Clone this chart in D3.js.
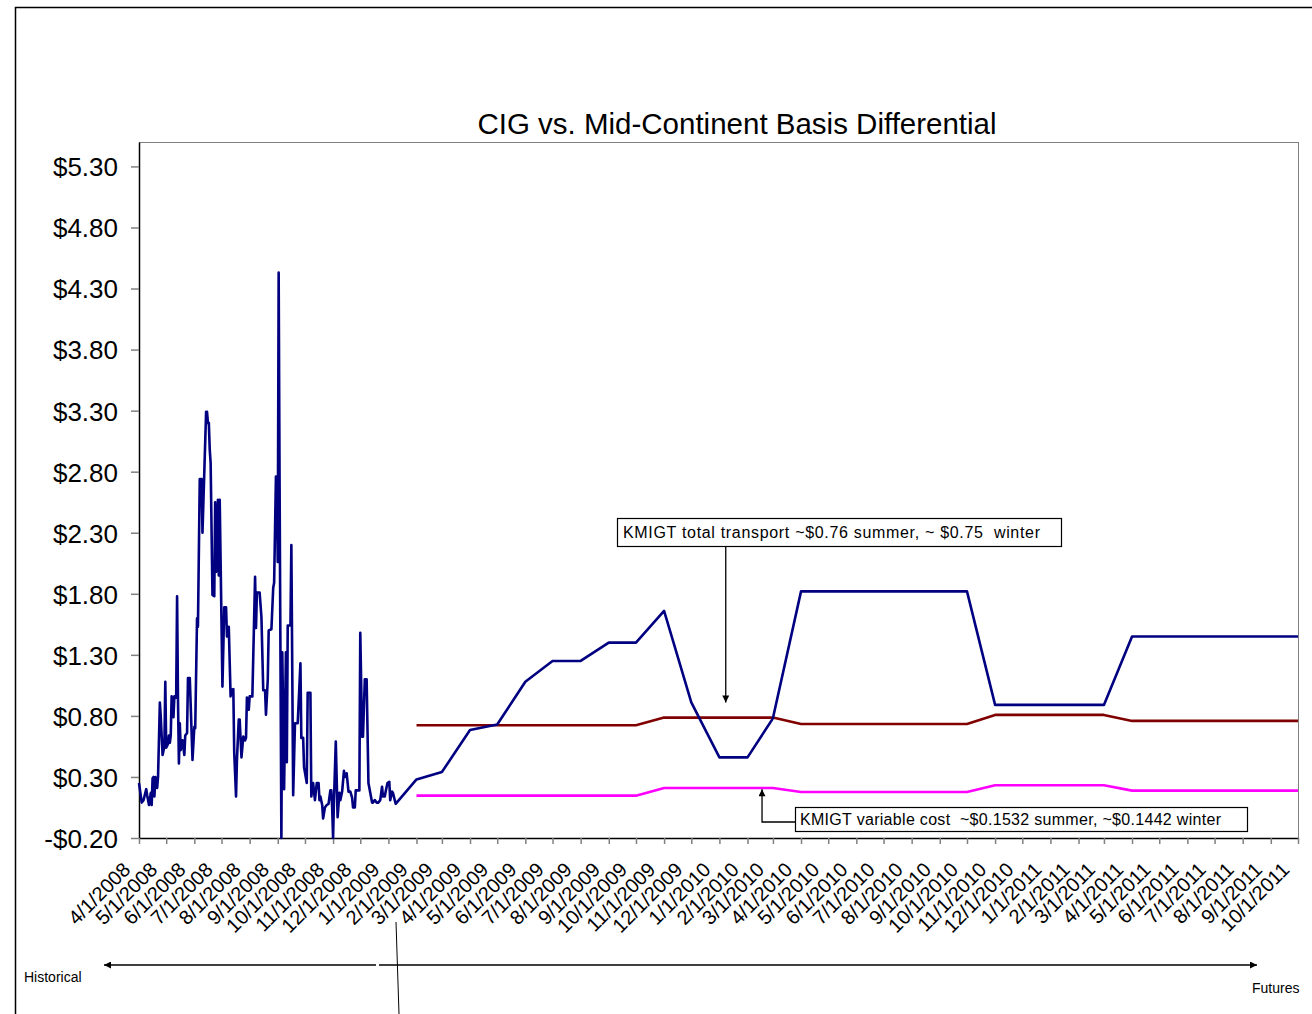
<!DOCTYPE html>
<html>
<head>
<meta charset="utf-8">
<script src="https://cdn.jsdelivr.net/npm/d3@7"></script>
<style>
body { margin: 0; background: #fff; }
svg { display: block; font-family: "Liberation Sans", Arial, sans-serif; }
</style>
</head>
<body>
<div id="chart"></div>
<script>
// ---- data ----
const titleText = 'CIG vs. Mid-Continent Basis Differential';

// daily historical basis, days counted from histStart
const histStart = '2008-04-01';
const histDay = [0, 3, 5, 8, 9, 11, 13, 14, 15, 16, 17, 18, 20, 21, 23, 24, 26, 28, 29, 30,
    32, 33, 34, 35, 36, 38, 39, 41, 42, 43, 44, 45, 46, 48, 50, 51, 53, 54, 56, 59,
    61, 62, 64, 65, 67, 69, 70, 74, 75, 76, 77, 78, 79, 81, 83, 84, 85, 86, 87, 88,
    89, 92, 94, 96, 97, 99, 101, 102, 104, 105, 107, 108, 110, 111, 113, 115, 117, 118, 119, 121,
    122, 125, 128, 129, 130, 133, 135, 137, 139, 140, 142, 143, 146, 148, 149, 151, 152, 153, 154, 155,
    157, 158, 160, 162, 163, 164, 167, 168, 170, 172, 175, 178, 179, 181, 182, 185, 186, 189, 190, 192,
    194, 196, 198, 199, 200, 202, 203, 205, 207, 209, 211, 212, 213, 214, 215, 217, 219, 221, 222, 224,
    226, 227, 229, 231, 233, 235, 236, 238, 239, 243, 244, 246, 247, 249, 251, 253, 255, 257, 258, 260,
    262, 264, 266, 268, 269, 271, 272, 274, 276, 277, 279, 280, 283];
const histValue = [0.25, 0.09, 0.11, 0.20, 0.15, 0.07, 0.17, 0.07, 0.29, 0.30, 0.14, 0.30, 0.21, 0.30, 0.91, 0.79, 0.48, 0.55, 1.08, 0.54,
    0.57, 0.64, 0.58, 0.64, 0.96, 0.79, 0.96, 0.95, 1.78, 0.93, 0.41, 0.74, 0.52, 0.60, 0.48, 0.64, 0.66, 1.11, 1.11, 0.44,
    0.71, 0.70, 1.60, 1.53, 2.74, 2.74, 2.30, 3.29, 3.29, 3.20, 3.20, 2.98, 2.87, 1.79, 1.78, 2.55, 1.98, 2.00, 2.57, 1.95,
    2.57, 1.04, 1.69, 1.69, 1.45, 1.53, 0.96, 1.01, 1.02, 0.50, 0.14, 0.44, 0.77, 0.77, 0.46, 0.63, 0.60, 0.62, 0.95, 0.85,
    0.96, 0.96, 1.94, 1.52, 1.81, 1.81, 1.61, 1.01, 1.01, 0.81, 1.10, 1.50, 1.51, 1.85, 1.89, 2.76, 2.76, 2.06, 4.43, 2.74,
    -0.20, 1.32, 0.20, 1.32, 0.42, 1.54, 1.54, 2.20, 0.15, 0.74, 0.74, 1.23, 0.62, 0.62, 0.38, 0.25, 0.99, 0.99, 0.14, 0.25,
    0.11, 0.25, 0.25, 0.11, 0.14, 0.07, -0.04, 0.05, 0.07, 0.08, 0.19, 0.19, 0.05, -0.20, 0.11, 0.59, -0.03, 0.17, 0.11, 0.18,
    0.35, 0.30, 0.33, 0.18, 0.18, 0.13, 0.05, 0.05, 0.19, 0.19, 1.48, 0.63, 0.63, 1.10, 1.10, 0.25, 0.17, 0.09, 0.09, 0.11,
    0.09, 0.09, 0.11, 0.22, 0.14, 0.14, 0.18, 0.25, 0.26, 0.11, 0.18, 0.17, 0.08];

// monthly futures, 2/1/2009 .. 10/1/2011
const futureStart = '2009-02-01';
const futureEnd = '2011-10-01';
const futureValue = [0.28, 0.34, 0.685, 0.73, 1.08, 1.25, 1.25, 1.40, 1.40, 1.66, 0.91,
    0.46, 0.46, 0.78, 1.82, 1.82, 1.82, 1.82, 1.82, 1.82, 1.82,
    0.89, 0.89, 0.89, 0.89, 0.89, 1.45, 1.45, 1.45, 1.45, 1.45, 1.45, 1.45];
const transportValue = [0.724, 0.724, 0.724, 0.724, 0.724, 0.724, 0.724, 0.724, 0.724,
    0.786, 0.786, 0.786, 0.786, 0.786,
    0.734, 0.734, 0.734, 0.734, 0.734, 0.734, 0.734,
    0.808, 0.808, 0.808, 0.808, 0.808,
    0.759, 0.759, 0.759, 0.759, 0.759, 0.759, 0.759];
const variableValue = [0.147, 0.147, 0.147, 0.147, 0.147, 0.147, 0.147, 0.147, 0.147,
    0.210, 0.210, 0.210, 0.210, 0.210,
    0.177, 0.177, 0.177, 0.177, 0.177, 0.177, 0.177,
    0.232, 0.232, 0.232, 0.232, 0.232,
    0.188, 0.188, 0.188, 0.188, 0.188, 0.188, 0.188];

const yTicks = [-0.2, 0.3, 0.8, 1.3, 1.8, 2.3, 2.8, 3.3, 3.8, 4.3, 4.8, 5.3];
const axisStart = '2008-04-01';
const axisEnd = '2011-10-01';

const transportNote = 'KMIGT total transport ~$0.76 summer, ~ $0.75  winter';
const transportPoint = { date: '2010-01-08', value: 0.91 };
const variableNote = 'KMIGT variable cost  ~$0.1532 summer, ~$0.1442 winter';
const variablePoint = { date: '2010-02-17', value: 0.20 };
const leftLabel = 'Historical';
const rightLabel = 'Futures';

// ---- layout ----
const W = 1312, H = 1014;
const margin = { top: 142, right: 14, bottom: 176, left: 139 };
const parse = d3.utcParse('%Y-%m-%d');

const svg = d3.select('#chart').append('svg')
    .attr('width', W)
    .attr('height', H);

const defs = svg.append('defs');
defs.append('marker')
    .attr('id', 'arrow')
    .attr('viewBox', '0 0 10 10')
    .attr('refX', 10).attr('refY', 5)
    .attr('markerWidth', 9).attr('markerHeight', 7)
    .attr('markerUnits', 'userSpaceOnUse')
    .attr('orient', 'auto')
    .append('path')
    .attr('d', 'M0,0L10,5L0,10z')
    .attr('fill', '#000');

// outer chart frame
svg.append('path')
    .attr('d', `M15.5,${H}V7.5H${W}`)
    .attr('fill', 'none')
    .attr('stroke', '#000')
    .attr('stroke-width', 1.5);

const x = d3.scaleUtc()
    .domain([parse(axisStart), parse(axisEnd)])
    .range([margin.left, W - margin.right]);
const y = d3.scaleLinear()
    .domain([-0.2, 5.5])
    .range([H - margin.bottom, margin.top]);

// plot area border
svg.append('rect')
    .attr('x', x.range()[0] + 0.5)
    .attr('y', y.range()[1] + 0.5)
    .attr('width', x.range()[1] - x.range()[0])
    .attr('height', y.range()[0] - y.range()[1])
    .attr('fill', 'none')
    .attr('stroke', '#808080');

svg.append('text')
    .attr('x', 737)
    .attr('y', 134)
    .attr('text-anchor', 'middle')
    .style('font-size', '29.5px')
    .text(titleText);

// ---- axes ----
const fmtMoney = d => (d < 0 ? '-' : '') + '$' + Math.abs(d).toFixed(2);
const yAxis = svg.append('g')
    .attr('transform', `translate(${margin.left},0)`)
    .call(d3.axisLeft(y).tickValues(yTicks).tickFormat(fmtMoney)
        .tickSize(8).tickSizeOuter(0).tickPadding(13));
yAxis.select('.domain').attr('stroke', '#000').attr('stroke-width', 1.5);
yAxis.selectAll('.tick line').attr('stroke', '#808080').attr('stroke-width', 1.5);
yAxis.selectAll('.tick text')
    .attr('fill', '#000')
    .attr('dy', '0.36em')
    .style('font-size', '26px')
    .style('font-family', '"Liberation Sans", Arial, sans-serif');

const months = d3.utcMonth.range(parse(axisStart), d3.utcDay.offset(parse(axisEnd), 1));
const xAxis = svg.append('g')
    .attr('transform', `translate(0,${y.range()[0]})`)
    .call(d3.axisBottom(x).tickValues(months).tickFormat(d3.utcFormat('%-m/%-d/%Y'))
        .tickSize(6).tickSizeOuter(0));
xAxis.select('.domain').attr('stroke', '#000').attr('stroke-width', 1.5);
xAxis.selectAll('.tick line').attr('stroke', '#808080').attr('stroke-width', 1.5);
xAxis.selectAll('.tick text')
    .attr('fill', '#000')
    .attr('x', 0).attr('y', 0).attr('dy', 0)
    .attr('text-anchor', 'end')
    .attr('transform', 'translate(-8,33) rotate(-45)')
    .style('font-size', '20px')
    .style('font-family', '"Liberation Sans", Arial, sans-serif');

// ---- series ----
const t0 = parse(histStart);
const basis = histDay.map((d, i) => ({ date: d3.utcDay.offset(t0, d), value: histValue[i] }));
const futureDates = d3.utcMonth.range(parse(futureStart), d3.utcDay.offset(parse(futureEnd), 1));
futureDates.forEach((d, i) => basis.push({ date: d, value: futureValue[i] }));
const transport = futureDates.map((d, i) => ({ date: d, value: transportValue[i] }));
const variable = futureDates.map((d, i) => ({ date: d, value: variableValue[i] }));

const line = d3.line().x(d => x(d.date)).y(d => y(d.value));
const series = [
    { data: transport, color: '#800000' },
    { data: variable, color: '#ff00ff' },
    { data: basis, color: '#000080' }
];
svg.append('g').selectAll('path')
    .data(series)
    .join('path')
    .attr('d', d => line(d.data))
    .attr('fill', 'none')
    .attr('stroke', d => d.color)
    .attr('stroke-width', 2.6)
    .attr('stroke-linejoin', 'round');

// ---- annotations ----
const note = svg.append('g').style('font-size', '16px');

// total transport
const tx = x(parse(transportPoint.date)), ty = y(transportPoint.value);
note.append('rect')
    .attr('x', 617.5).attr('y', 518.5).attr('width', 444).attr('height', 28)
    .attr('fill', '#fff').attr('stroke', '#000').attr('stroke-width', 1.2);
note.append('text')
    .attr('x', 623).attr('y', 538)
    .attr('textLength', 417)
    .attr('lengthAdjust', 'spacing')
    .style('white-space', 'pre')
    .text(transportNote);
note.append('line')
    .attr('x1', tx).attr('y1', 547).attr('x2', tx).attr('y2', ty)
    .attr('stroke', '#000').attr('stroke-width', 1.3)
    .attr('marker-end', 'url(#arrow)');

// variable cost
const vx = x(parse(variablePoint.date)), vy = y(variablePoint.value);
note.append('rect')
    .attr('x', 795.5).attr('y', 807.5).attr('width', 452).attr('height', 24)
    .attr('fill', '#fff').attr('stroke', '#000').attr('stroke-width', 1.2);
note.append('text')
    .attr('x', 800).attr('y', 825)
    .attr('textLength', 421)
    .attr('lengthAdjust', 'spacing')
    .style('white-space', 'pre')
    .text(variableNote);
note.append('path')
    .attr('d', `M795,822H${vx}V${vy}`)
    .attr('fill', 'none')
    .attr('stroke', '#000').attr('stroke-width', 1.3)
    .attr('marker-end', 'url(#arrow)');

// historical / futures arrows
const foot = svg.append('g');
foot.append('line')
    .attr('x1', 376).attr('y1', 965).attr('x2', 104).attr('y2', 965)
    .attr('stroke', '#000').attr('stroke-width', 1.5)
    .attr('marker-end', 'url(#arrow)');
foot.append('line')
    .attr('x1', 379).attr('y1', 965).attr('x2', 1257).attr('y2', 965)
    .attr('stroke', '#000').attr('stroke-width', 1.5)
    .attr('marker-end', 'url(#arrow)');
foot.append('line')
    .attr('x1', 396).attr('y1', 922).attr('x2', 399).attr('y2', H)
    .attr('stroke', '#000').attr('stroke-width', 1);
foot.append('text')
    .attr('x', 24).attr('y', 982)
    .style('font-size', '14px')
    .text(leftLabel);
foot.append('text')
    .attr('x', 1252).attr('y', 993)
    .style('font-size', '14px')
    .text(rightLabel);
</script>
</body>
</html>
